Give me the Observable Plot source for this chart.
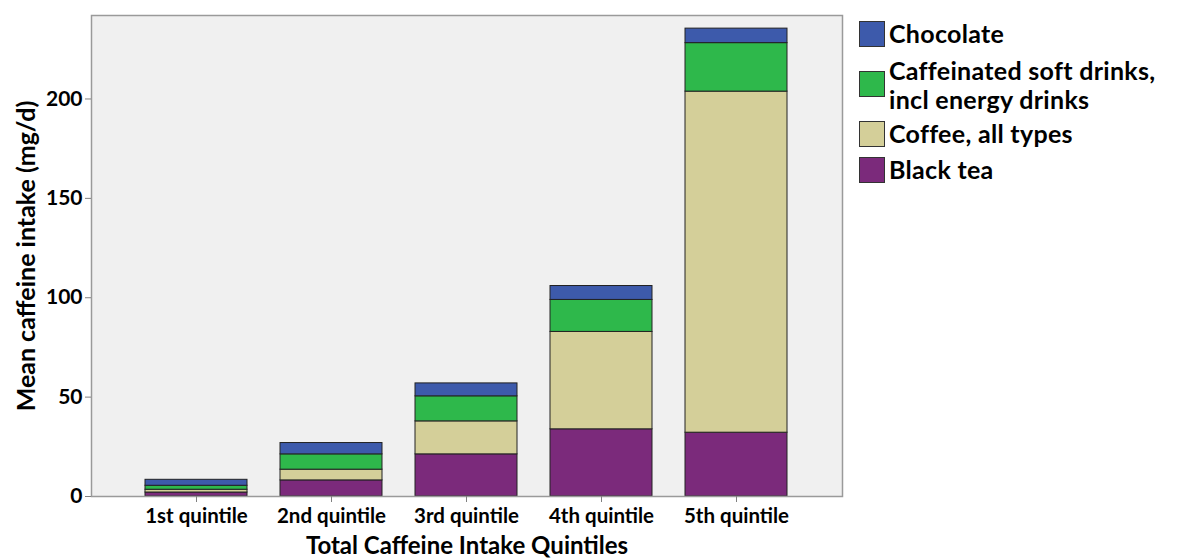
<!DOCTYPE html>
<html>
<head>
<meta charset="utf-8">
<script src="https://cdn.jsdelivr.net/npm/d3@7"></script>
<script src="https://cdn.jsdelivr.net/npm/@observablehq/plot@0.6"></script>
<style>
  body { margin: 0; background: #fff; }
  #wrap { position: relative; width: 1180px; height: 560px; font-family: Lato, "Open Sans", sans-serif; }
  #legend { position: absolute; left: 859px; top: 20px; }
  .item { display: flex; align-items: flex-start; position: absolute; left: 0; white-space: nowrap; }
  .sw { width: 26px; height: 26px; box-sizing: border-box; border: 1px solid #333; margin-right: 4px; }
  .lab { font-size: 25px; font-weight: 700; line-height: 29px; letter-spacing: 0.3px; color: #000; }
</style>
</head>
<body>
<div id="wrap"><div id="legend"></div></div>
<script>
const quintiles = ["1st quintile", "2nd quintile", "3rd quintile", "4th quintile", "5th quintile"];
const seriesNames = ["Black tea", "Coffee, all types", "Caffeinated soft drinks, incl energy drinks", "Chocolate"];
const legendLabels = [["Chocolate"], ["Caffeinated soft drinks,", "incl energy drinks"], ["Coffee, all types"], ["Black tea"]];
const blackTea = [2.0, 8.1, 21.2, 33.8, 32.1];
const coffee = [1.4, 5.4, 16.6, 49.0, 171.6];
const softDrinks = [2.0, 7.7, 12.6, 16.1, 24.4];
const chocolate = [3.0, 5.7, 6.5, 7.0, 7.3];
const yTicks = [0, 50, 100, 150, 200];
const colors = ["#7B2A7B", "#D4CF99", "#2EB84B", "#3D5AAB"];

const seriesValues = [blackTea, coffee, softDrinks, chocolate];
const data = [];
seriesNames.forEach((s, i) => quintiles.forEach((q, j) => data.push({quintile: q, series: s, value: seriesValues[i][j]})));

const plot = Plot.plot({
  width: 1180,
  height: 560,
  marginLeft: 91,
  marginRight: 338,
  marginTop: 15,
  marginBottom: 64,
  style: {fontFamily: "Lato, 'Open Sans', sans-serif", fontSize: "20px", fontWeight: 700, color: "#000", background: "transparent"},
  x: {domain: quintiles, paddingInner: 0.244, paddingOuter: 0.4},
  y: {domain: [0, 242]},
  color: {domain: seriesNames, range: colors},
  marks: [
    Plot.frame({fill: "#F0F0F0", stroke: null}),
    Plot.barY(data, Plot.stackY({x: "quintile", y: "value", fill: "series", order: seriesNames, stroke: "#222", strokeWidth: 1, inset: 0})),
    Plot.frame({stroke: "#9a9a9a", strokeWidth: 1.5}),
    Plot.axisY({ticks: yTicks, tickSize: 6, tickPadding: 3, stroke: "#808080", fontSize: 21, fontWeight: 700,
      label: "Mean caffeine intake (mg/d)", labelAnchor: "center", labelOffset: 74, labelArrow: "none"}),
    Plot.axisX({tickSize: 6, tickPadding: 6, stroke: "#808080", fontSize: 20.5, fontWeight: 700,
      label: "Total Caffeine Intake Quintiles", labelAnchor: "center", labelOffset: 57, labelArrow: "none"})
  ]
});
d3.select(plot).selectAll("[aria-label='y-axis label'] text").style("font-size", "25px").style("font-weight", 700);
d3.select(plot).selectAll("[aria-label='x-axis label'] text").style("font-size", "24px").style("font-weight", 700);
document.getElementById("wrap").prepend(plot);

const legend = d3.select("#legend");
const legColors = [colors[3], colors[2], colors[1], colors[0]];
const tops = [0, 50, 100, 136];
legendLabels.forEach((lines, i) => {
  const it = legend.append("div").attr("class", "item").style("top", tops[i] + "px");
  it.append("div").attr("class", "sw").style("background", legColors[i]).style("margin-top", "1px");
  it.append("div").attr("class", "lab").html(lines.join("<br>")).style("margin-top", (lines.length > 1 ? -14 : -1) + "px");
});
</script>
</body>
</html>
